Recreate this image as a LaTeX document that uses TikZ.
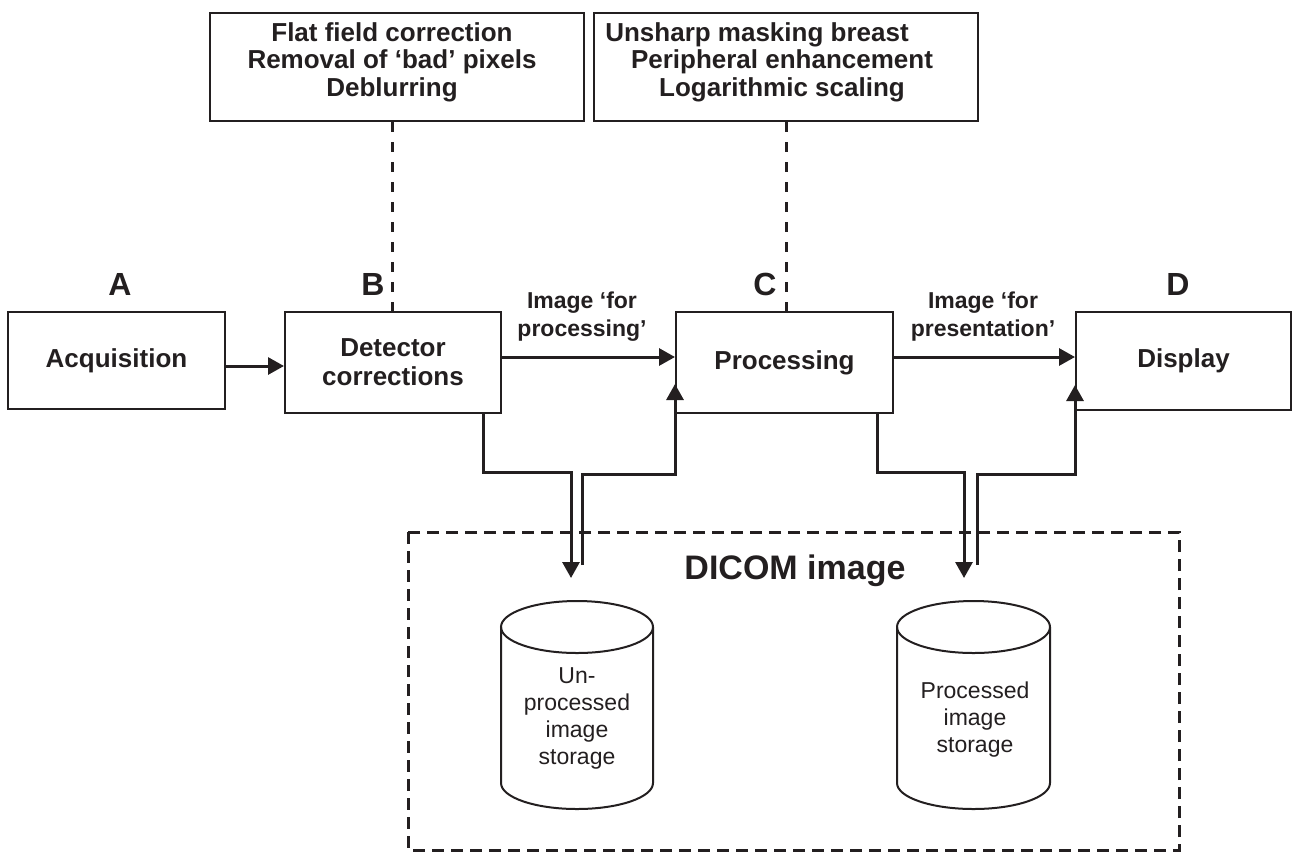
\documentclass[tikz,border=0pt]{standalone}
\usepackage{fontspec}
\setmainfont{Liberation Sans}
\usetikzlibrary{arrows.meta}
\definecolor{ink}{HTML}{231F20}
\begin{document}
\begin{tikzpicture}[x=1pt,y=-1pt,
  every node/.style={text=ink},
  box/.style={draw=ink, line width=2pt, inner sep=0pt, align=center,
    font=\fontsize{26}{29}\selectfont\bfseries},
  toptext/.style={inner sep=0pt, align=center, font=\fontsize{26}{27.5}\selectfont\bfseries},
  letter/.style={inner sep=0pt, font=\fontsize{32}{34}\selectfont\bfseries},
  lbl/.style={inner sep=0pt, align=center, font=\fontsize{23}{28}\selectfont\bfseries},
  cyltext/.style={inner sep=0pt, align=center, font=\fontsize{23}{27}\selectfont},
  arr/.style={draw=ink, line width=3pt, -{Triangle[length=16pt,width=17pt]}},
  dsh/.style={draw=ink, line width=3pt, dash pattern=on 10pt off 10pt},
  dshbox/.style={draw=ink, line width=3pt, dash pattern=on 12pt off 7pt},
  cyl/.style={draw=ink, line width=2pt}]
\useasboundingbox (0,0) rectangle (1292,852);

% top boxes
\node[box, minimum width=374pt, minimum height=108pt] (T1) at (397,67) {};
\node[toptext] (T1t) at (392,62) {Flat field correction\\Removal of ‘bad’ pixels\\Deblurring};
\node[box, minimum width=384pt, minimum height=108pt] (T2) at (786,67) {};
\node[toptext] (T2t) at (782,62) {Unsharp masking breast\hspace*{50pt}\\Peripheral enhancement\\Logarithmic scaling};

% main boxes
\node[box, minimum width=217pt, minimum height=97pt] (A) at (116.5,360.5) {Acquisition};
\node[box, minimum width=216pt, minimum height=101pt] (B) at (393,362.5) {Detector\\corrections};
\node[box, minimum width=217pt, minimum height=101pt] (C) at (784.5,362.5) {Processing};
\node[box, minimum width=215pt, minimum height=98pt] (D) at (1183.5,361) {Display};

% letters
\node[letter] (LA) at (120,284) {A};
\node[letter] (LB) at (373,284) {B};
\node[letter] (LC) at (765,284) {C};
\node[letter] (LD) at (1178,284) {D};

% labels
\node[lbl] (L1) at (582,317) {Image ‘for\\processing’};
\node[lbl] (L2) at (983,317) {Image ‘for\\presentation’};

% dashed links from top boxes
\draw[dsh] (T1.south -| 392,0) -- (B.north -| 392,0);
\draw[dsh] (T2.south) -- (C.north -| T2.south);

% horizontal arrows
\coordinate (yab) at (0,366);
\coordinate (ybc) at (0,357);
\draw[arr] (A.east |- yab) -- (B.west |- yab);
\draw[arr] (B.east |- ybc) -- (C.west |- ybc);
\draw[arr] (C.east |- ybc) -- (D.west |- ybc);

% DICOM box
\draw[dshbox] (408,532) rectangle (1179,850);
\node[inner sep=0pt, font=\fontsize{34}{36}\selectfont\bfseries] (DICOM) at (795,571) {DICOM image};

% cylinders
\draw[cyl] (501,627) -- (501,783) arc[start angle=180, end angle=360, x radius=76pt, y radius=26pt] -- (653,627);
\draw[cyl] (577,627) ellipse[x radius=76pt, y radius=26pt];
\node[cyltext] (S1) at (577,718) {Un-\\processed\\image\\storage};

\draw[cyl] (897,627) -- (897,783) arc[start angle=180, end angle=360, x radius=76.5pt, y radius=26pt] -- (1050,627);
\draw[cyl] (973.5,627) ellipse[x radius=76.5pt, y radius=26pt];
\node[cyltext] (S2) at (975,720) {Processed\\image\\storage};

% pipes B <-> storage 1
\coordinate (d1) at (571,472);
\coordinate (d1e) at (571,578);
\draw[arr] (B.south -| 483,0) |- (d1) -- (d1e);
\coordinate (u1) at (582,565);
\coordinate (u1b) at (582,474);
\draw[arr] (u1) -- (u1b) -- (u1b -| C.west) -- ([yshift=30pt]C.south west);

% pipes C <-> storage 2
\coordinate (d2) at (964,472);
\coordinate (d2e) at (964,578);
\draw[arr] (C.south -| 877,0) |- (d2) -- (d2e);
\coordinate (u2) at (977,565);
\coordinate (u2b) at (977,474);
\draw[arr] (u2) -- (u2b) -- (u2b -| D.west) -- ([yshift=26pt]D.south west);
\end{tikzpicture}
\end{document}
